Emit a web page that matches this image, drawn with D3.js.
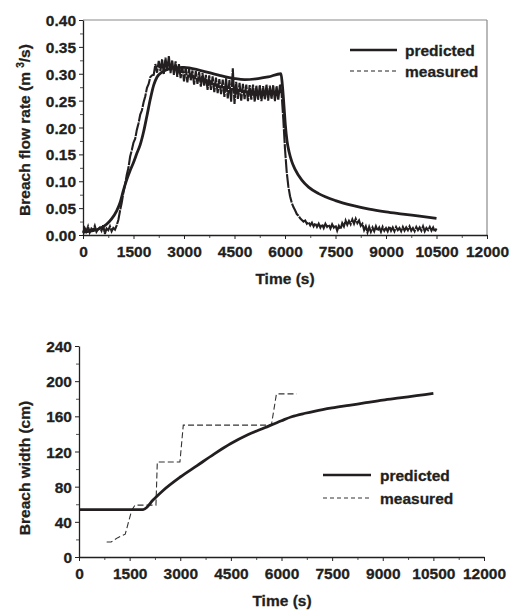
<!DOCTYPE html>
<html><head><meta charset="utf-8">
<script src="https://cdn.jsdelivr.net/npm/d3@7"></script>
<style>
html,body{margin:0;padding:0;background:#fff;}
text{font-family:"Liberation Sans",Arial,sans-serif;font-weight:bold;fill:#231f20;}
</style></head>
<body><svg id="c" width="509" height="612"></svg>
<script>
// ---------- data ----------
const timeTicks = [0,1500,3000,4500,6000,7500,9000,10500,12000];
const timeMinor = [750,2250,3750,5250,6750,8250,9750,11250];
const flowTicks = [0,0.05,0.10,0.15,0.20,0.25,0.30,0.35,0.40];
const flowMinor = [0.025,0.075,0.125,0.175,0.225,0.275,0.325,0.375];
const widthTicks = [0,40,80,120,160,200,240];
const widthMinor = [20,60,100,140,180,220];
const seriesNames = ["predicted","measured"];

// predicted breach flow (m3/s)
const predictedFlow = [[0,0.005],[300,0.008],[500,0.012],[700,0.02],[850,0.03],[1000,0.045],[1100,0.06],[1200,0.083],[1300,0.103],[1400,0.12],[1500,0.135],[1600,0.152],[1700,0.168],[1800,0.192],[1900,0.222],[2000,0.253],[2100,0.279],[2200,0.294],[2350,0.303],[2500,0.308],[2700,0.311],[3000,0.312],[3500,0.306],[4000,0.298],[4500,0.291],[4800,0.289],[5200,0.291],[5500,0.294],[5880,0.300],[5920,0.28],[5970,0.24],[6010,0.205],[6060,0.175],[6120,0.155],[6200,0.137],[6300,0.122],[6500,0.102],[6700,0.089],[7000,0.077],[7500,0.064],[8000,0.055],[8500,0.048],[9000,0.043],[9500,0.039],[10000,0.035],[10500,0.031]];

// measured breach flow (m3/s)
const measuredFlow = [[0,0.004],[50,0.013],[100,0.007],[150,0.016],[200,0.005],[250,0.012],[300,0.009],[350,0.017],[400,0.006],[450,0.011],
[500,0.014],[550,0.008],[600,0.018],[650,0.002],[700,0.012],[750,0.009],[800,0.016],[850,0.007],[900,0.013],[950,0.010],
[1000,0.018],[1050,0.028],[1100,0.045],[1150,0.060],[1200,0.079],[1250,0.094],[1300,0.112],[1350,0.125],[1400,0.146],[1450,0.158],
[1500,0.172],[1550,0.179],[1600,0.196],[1650,0.208],[1700,0.224],[1750,0.232],[1800,0.247],[1850,0.258],[1900,0.274],[1950,0.281],
[2000,0.294],[2050,0.297],[2100,0.298],[2150,0.318],[2200,0.302],[2250,0.324],[2300,0.305],[2350,0.327],[2400,0.299],[2450,0.330],
[2500,0.306],[2550,0.333],[2600,0.301],[2650,0.325],[2700,0.298],[2750,0.323],[2800,0.294],[2850,0.318],[2900,0.292],[2950,0.314],
[3000,0.286],[3050,0.312],[3100,0.284],[3150,0.309],[3200,0.288],[3250,0.306],[3300,0.280],[3350,0.305],[3400,0.281],[3450,0.303],
[3500,0.276],[3550,0.301],[3600,0.277],[3650,0.298],[3700,0.270],[3750,0.297],[3800,0.270],[3850,0.295],[3900,0.266],[3950,0.293],
[4000,0.264],[4050,0.290],[4100,0.262],[4150,0.289],[4200,0.257],[4250,0.292],[4300,0.254],[4350,0.288],[4400,0.248],[4450,0.310],
[4500,0.244],[4550,0.285],[4600,0.253],[4650,0.283],[4700,0.250],[4750,0.281],[4800,0.253],[4850,0.280],[4900,0.249],[4950,0.279],
[5000,0.252],[5050,0.280],[5100,0.248],[5150,0.278],[5200,0.251],[5250,0.279],[5300,0.249],[5350,0.277],[5400,0.252],[5450,0.280],
[5500,0.250],[5550,0.278],[5600,0.253],[5650,0.279],[5700,0.249],[5750,0.277],[5800,0.251],[5850,0.280],[5900,0.262],[5950,0.215],
[6000,0.160],[6050,0.118],[6100,0.090],[6150,0.072],[6200,0.060],[6250,0.052],[6300,0.046],[6350,0.039],[6400,0.036],[6450,0.031],
[6500,0.028],[6550,0.025],[6600,0.027],[6650,0.021],[6700,0.024],[6750,0.018],[6800,0.023],[6850,0.016],[6900,0.022],[6950,0.015],
[7000,0.021],[7050,0.014],[7100,0.020],[7150,0.013],[7200,0.021],[7250,0.015],[7300,0.019],[7350,0.012],[7400,0.020],[7450,0.014],
[7500,0.018],[7550,0.008],[7600,0.017],[7650,0.011],[7700,0.022],[7750,0.016],[7800,0.027],[7850,0.019],[7900,0.026],[7950,0.020],
[8000,0.029],[8050,0.021],[8100,0.030],[8150,0.022],[8200,0.027],[8250,0.017],[8300,0.021],[8350,0.009],[8400,0.016],[8450,0.005],
[8500,0.015],[8550,0.006],[8600,0.014],[8650,0.007],[8700,0.016],[8750,0.008],[8800,0.014],[8850,0.006],[8900,0.015],[8950,0.008],
[9000,0.013],[9050,0.007],[9100,0.016],[9150,0.008],[9200,0.014],[9250,0.007],[9300,0.015],[9350,0.009],[9400,0.013],[9450,0.007],
[9500,0.015],[9550,0.008],[9600,0.014],[9650,0.009],[9700,0.016],[9750,0.008],[9800,0.013],[9850,0.007],[9900,0.015],[9950,0.009],
[10000,0.014],[10050,0.008],[10100,0.016],[10150,0.007],[10200,0.013],[10250,0.009],[10300,0.015],[10350,0.008],[10400,0.014],[10450,0.006],[10500,0.012]];

// predicted breach width (cm)
const predictedWidth = [[0,54],[1900,54],[2200,65],[2500,76],[3000,91],[3500,104],[4000,117],[4500,129],[5000,139],[5500,147],[6000,155],[6300,159.5],[6700,163.5],[7000,166],[7500,169.5],[8000,172.5],[8500,175.5],[9000,178.5],[9500,181],[10000,183.5],[10500,186]];
// measured breach width (cm)
const measuredWidth = [[820,17],[950,17],[1150,22],[1370,26],[1560,53],[1660,59],[2280,59],[2320,108],[2990,108],[3090,150],[5700,150],[5850,185.5],[6450,185.5]];

// ---------- drawing ----------
const svg = d3.select("#c");
const ink = "#231f20";

function panel(o){
  const g = svg.append("g");
  const x = d3.scaleLinear().domain([0,12000]).range([o.x0,o.x1]);
  const y = d3.scaleLinear().domain(o.yDomain).range([o.y0,o.y1]);
  if (o.frame){
    g.append("line").attr("x1",o.x0).attr("x2",o.x1).attr("y1",o.y1).attr("y2",o.y1).attr("stroke","#8a8a8a").attr("stroke-width",1.2);
    g.append("line").attr("x1",o.x1).attr("x2",o.x1).attr("y1",o.y1).attr("y2",o.y0).attr("stroke","#8a8a8a").attr("stroke-width",1.2);
  }
  g.append("g").attr("transform",`translate(0,${o.y0})`)
    .call(d3.axisBottom(x).tickValues(timeMinor).tickSize(3).tickFormat(""))
    .call(s=>{s.select(".domain").remove(); s.selectAll("line").attr("stroke","#555");});
  g.append("g").attr("transform",`translate(${o.x0},0)`)
    .call(d3.axisLeft(y).tickValues(o.yMinor).tickSize(3).tickFormat(""))
    .call(s=>{s.select(".domain").remove(); s.selectAll("line").attr("stroke","#555");});
  const xa = g.append("g").attr("transform",`translate(0,${o.y0})`)
    .call(d3.axisBottom(x).tickValues(timeTicks).tickSize(4).tickSizeOuter(0).tickPadding(5).tickFormat(d3.format("d")));
  const ya = g.append("g").attr("transform",`translate(${o.x0},0)`)
    .call(d3.axisLeft(y).tickValues(o.yTicks).tickSize(4).tickSizeOuter(0).tickPadding(3).tickFormat(o.fmt));
  [xa,ya].forEach(a=>{
    a.select(".domain").attr("stroke",ink).attr("stroke-width",1.3);
    a.selectAll(".tick line").attr("stroke",ink);
    a.selectAll("text").attr("font-size",15.5).attr("font-family","Liberation Sans, Arial, sans-serif").attr("font-weight","bold").attr("fill",ink)
      .attr("stroke",ink).attr("stroke-width",0.3);
  });
  xa.selectAll("text").attr("dy","0.85em");
  ya.selectAll("text").attr("dy","0.36em");
  return {g,x,y};
}

function label(sel){ return sel.attr("font-size",15.5).attr("stroke",ink).attr("stroke-width",0.3); }

// ---- top panel ----
const P1 = panel({x0:83,x1:487,y0:235,y1:20,yDomain:[0,0.40],yTicks:flowTicks,yMinor:flowMinor,fmt:d3.format(".2f"),frame:true});
const line1 = d3.line().x(d=>P1.x(d[0])).y(d=>P1.y(d[1]));
P1.g.append("path").datum(measuredFlow).attr("d",line1).attr("fill","none")
  .attr("stroke",ink).attr("stroke-width",2.1).attr("stroke-linejoin","miter").attr("stroke-dasharray","14,1");
P1.g.append("path").datum(predictedFlow).attr("d",line1.curve(d3.curveMonotoneX)).attr("fill","none")
  .attr("stroke",ink).attr("stroke-width",2.8);
label(svg.append("text").attr("x",285).attr("y",284).attr("text-anchor","middle")).text("Time (s)");
const yl1 = label(svg.append("text").attr("transform","translate(30,130) rotate(-90)").attr("text-anchor","middle"));
yl1.append("tspan").text("Breach flow rate (m ");
yl1.append("tspan").attr("font-size",10).attr("dy",-6).text("3");
yl1.append("tspan").attr("dy",6).text("/s)");
svg.append("line").attr("x1",350).attr("x2",397).attr("y1",50).attr("y2",50).attr("stroke",ink).attr("stroke-width",2.4);
svg.append("line").attr("x1",350).attr("x2",397).attr("y1",71).attr("y2",71).attr("stroke",ink).attr("stroke-width",1).attr("stroke-dasharray","4,3");
label(svg.append("text").attr("x",405).attr("y",56)).text(seriesNames[0]);
label(svg.append("text").attr("x",405).attr("y",77)).text(seriesNames[1]);

// ---- bottom panel ----
const P2 = panel({x0:79,x1:484,y0:557,y1:346,yDomain:[0,240],yTicks:widthTicks,yMinor:widthMinor,fmt:d3.format("d"),frame:false});
const line2 = d3.line().x(d=>P2.x(d[0])).y(d=>P2.y(d[1]));
P2.g.append("path").datum(measuredWidth).attr("d",line2).attr("fill","none")
  .attr("stroke","#333").attr("stroke-width",1.1).attr("stroke-dasharray","6,3");
P2.g.append("path").datum(predictedWidth).attr("d",d3.line().x(d=>P2.x(d[0])).y(d=>P2.y(d[1])).curve(d3.curveMonotoneX)).attr("fill","none")
  .attr("stroke",ink).attr("stroke-width",2.8);
label(svg.append("text").attr("x",282).attr("y",606).attr("text-anchor","middle")).text("Time (s)");
label(svg.append("text").attr("transform","translate(30,468) rotate(-90)").attr("text-anchor","middle")).text("Breach width (cm)");
svg.append("line").attr("x1",323).attr("x2",371).attr("y1",475).attr("y2",475).attr("stroke",ink).attr("stroke-width",2.4);
svg.append("line").attr("x1",323).attr("x2",371).attr("y1",498).attr("y2",498).attr("stroke","#333").attr("stroke-width",1).attr("stroke-dasharray","4,3");
label(svg.append("text").attr("x",380).attr("y",481)).text(seriesNames[0]);
label(svg.append("text").attr("x",380).attr("y",504)).text(seriesNames[1]);
</script></body></html>
